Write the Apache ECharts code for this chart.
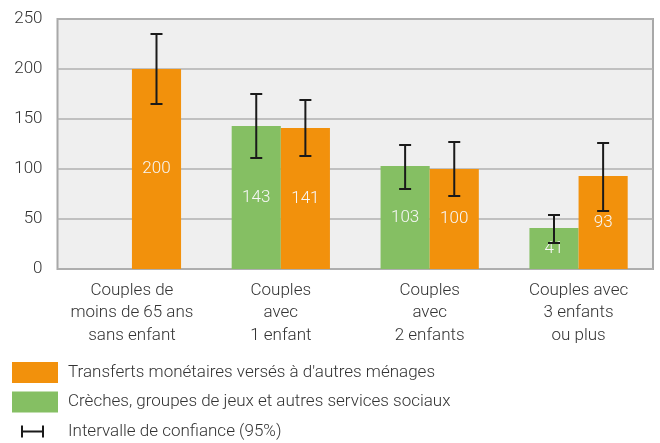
<!DOCTYPE html>
<html>
<head>
<meta charset="utf-8">
<script src="https://cdn.jsdelivr.net/npm/echarts@6/dist/echarts.min.js"></script>
<style>html,body{margin:0;padding:0;background:#fff}#c{width:660px;height:443px}</style>
</head>
<body>
<div id="c"></div>
<script>
const categories = ['Couples de\nmoins de 65 ans\nsans enfant', 'Couples\navec\n1 enfant', 'Couples\navec\n2 enfants', 'Couples avec\n3 enfants\nou plus'];
const yTicks = [0, 50, 100, 150, 200, 250];
const nameOrange = 'Transferts monétaires versés à d\'autres ménages';
const nameGreen = 'Crèches, groupes de jeux et autres services sociaux';
const nameCI = 'Intervalle de confiance (95%)';
const greenValues = [null, 143, 103, 41];
const orangeValues = [200, 141, 100, 93];
const greenLow = [null, 111, 80, 26];
const greenHigh = [null, 175, 124, 54];
const orangeLow = [165, 113, 73, 58];
const orangeHigh = [235, 169, 127, 126];

const FONT = 'Roboto';
const ciData = [];
for (let i = 0; i < categories.length; i++) {
  if (greenValues[i] != null) ciData.push([i, greenLow[i], greenHigh[i], -1]);
  if (orangeValues[i] != null) ciData.push([i, orangeLow[i], orangeHigh[i], 1]);
}

const chart = echarts.init(document.getElementById('c'), null, {renderer: 'canvas'});
const labelCfg = {show: true, position: 'inside', color: '#f7f7f7', fontSize: 17, fontFamily: FONT, fontWeight: 300};
chart.setOption({
  animation: false,
  grid: {left: 57.5, right: 7, top: 19, bottom: 174, show: true, backgroundColor: '#efefef', borderColor: '#a8a8a8', borderWidth: 2},
  legend: {
    orient: 'vertical', left: 12, top: 362, height: 81, padding: 0, itemWidth: 46, itemHeight: 21, itemGap: 8.5,
    selectedMode: false,
    textStyle: {fontSize: 17, color: '#333', fontFamily: FONT, fontWeight: 300, padding: [0, 0, 0, 5]},
    data: [
      {name: nameOrange, icon: 'rect'},
      {name: nameGreen, icon: 'rect'},
      {name: nameCI, icon: 'path://M0 0M46 21M9 4.5h2v12h-2ZM11 9.5h19v2h-19ZM30 4.5h2v12h-2Z'}
    ]
  },
  xAxis: {
    type: 'category', data: categories,
    axisLine: {show: false}, axisTick: {show: false},
    axisLabel: {color: '#333', fontSize: 17, fontFamily: FONT, fontWeight: 300, lineHeight: 22.5, margin: 10, interval: 0}
  },
  yAxis: {
    type: 'value', min: 0, max: 250, interval: 50,
    axisLine: {show: false}, axisTick: {show: false},
    splitLine: {lineStyle: {color: '#b0b0b0', width: 1.5}},
    axisLabel: {color: '#333', fontSize: 17, fontFamily: FONT, fontWeight: 300, margin: 15,
      formatter: v => yTicks.indexOf(v) >= 0 ? String(v) : ''}
  },
  series: [
    {name: nameGreen, type: 'bar', data: greenValues, barGap: 0, barCategoryGap: '34%', itemStyle: {color: '#85bf63'}, label: labelCfg},
    {name: nameOrange, type: 'bar', data: orangeValues, barGap: 0, barCategoryGap: '34%', itemStyle: {color: '#f2910c'}, label: labelCfg},
    {
      name: nameCI, type: 'custom', data: ciData, z: 5,
      itemStyle: {color: '#1a1a1a'},
      encode: {x: 0, y: [1, 2]},
      renderItem: function (params, api) {
        const ci = api.value(0), lo = api.value(1), hi = api.value(2), side = api.value(3);
        const pLo = api.coord([ci, lo]);
        const pHi = api.coord([ci, hi]);
        const bw = api.size([1, 0])[0] * 0.33;
        const x = pLo[0] + side * bw / 2;
        const cap = 6;
        const st = {stroke: '#1a1a1a', lineWidth: 2};
        return {type: 'group', children: [
          {type: 'line', shape: {x1: x, y1: pHi[1], x2: x, y2: pLo[1]}, style: st},
          {type: 'line', shape: {x1: x - cap, y1: pHi[1], x2: x + cap, y2: pHi[1]}, style: st},
          {type: 'line', shape: {x1: x - cap, y1: pLo[1], x2: x + cap, y2: pLo[1]}, style: st}
        ]};
      }
    }
  ]
});
</script>
</body>
</html>
